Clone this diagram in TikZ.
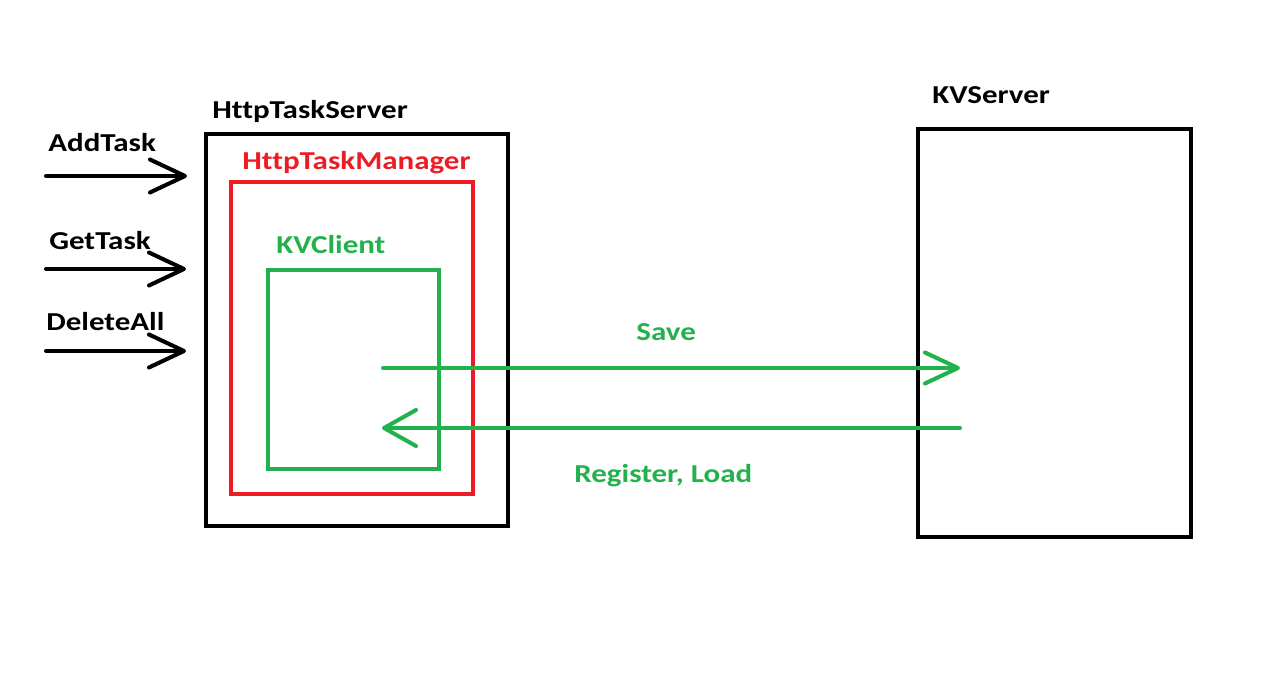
\documentclass[tikz,border=0pt]{standalone}
\usepackage{fontspec}
\setmainfont{Carlito}[FakeStretch=1.2,Ligatures={NoCommon}]
\usetikzlibrary{arrows.meta}
\definecolor{pgreen}{RGB}{34,177,76}
\definecolor{pred}{RGB}{237,28,36}
\tikzset{
  lbl/.style={anchor=base west,inner sep=0pt,font=\fontsize{14.7}{16}\selectfont\bfseries},
  box/.style={draw,line width=2.3pt,inner sep=0pt},
  arr/.style={line width=2.3pt,line cap=round,-{Straight Barb[length=0.7cm,width=0.66cm,round]}},
}
\begin{document}
\begin{tikzpicture}[x=0.02cm,y=-0.02cm]
\useasboundingbox (0,0) rectangle (1280,685);
% boxes
\node[box,minimum width=302*0.02cm,minimum height=392*0.02cm] (srv) at (357,330) {};
\node[box,draw=pred,minimum width=242*0.02cm,minimum height=312*0.02cm] (mgr) at (352,338) {};
\node[box,draw=pgreen,minimum width=171*0.02cm,minimum height=199*0.02cm] (cli) at (353.5,369.5) {};
\node[box,minimum width=273*0.02cm,minimum height=408*0.02cm] (kvs) at (1054.5,333) {};
% labels
\node[lbl] (lsrv) at (212,119) {HttpTaskServer};
\node[lbl,text=pred] (lmgr) at (242,170) {HttpTaskManager};
\node[lbl,text=pgreen] (lcli) at (276,254) {KVClient};
\node[lbl] (lkvs) at (932,104) {KVServer};
\node[lbl] (ladd) at (48,152) {AddTask};
\node[lbl] (lget) at (49,250) {GetTask};
\node[lbl] (ldel) at (46,331) {DeleteAll};
\node[lbl,text=pgreen] (lsave) at (636,341) {Save};
\node[lbl,text=pgreen] (lreg) at (574,482) {Register, Load};
% arrow ends
\coordinate (a1) at (46,176); \coordinate (a2) at (187,176);
\coordinate (g1) at (46,269); \coordinate (g2) at (186,269);
\coordinate (d1) at (46,351); \coordinate (d2) at (186,351);
\coordinate (s1) at (383,368); \coordinate (s2) at (960,368);
\coordinate (r1) at (960,428); \coordinate (r2) at (382,428);
\draw[arr] (a1) -- (a2);
\draw[arr] (g1) -- (g2);
\draw[arr] (d1) -- (d2);
\draw[arr,draw=pgreen,-{Straight Barb[length=0.66cm,width=0.62cm,round]}] (s1) -- (s2);
\draw[arr,draw=pgreen,-{Straight Barb[length=0.64cm,width=0.72cm,round]}] (r1) -- (r2);
\end{tikzpicture}
\end{document}
